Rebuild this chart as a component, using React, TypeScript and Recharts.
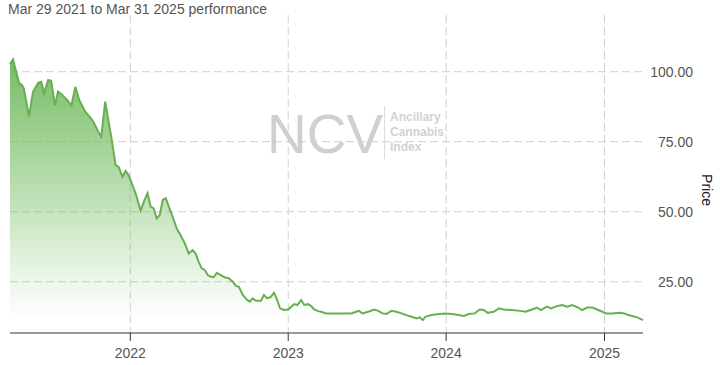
import { AreaChart, Area, XAxis, YAxis, CartesianGrid } from 'recharts';

const dates = [
  '2021-03-29', '2021-04-05', '2021-04-19', '2021-04-26', '2021-04-30', '2021-05-12', '2021-05-21', '2021-06-02',
  '2021-06-09', '2021-06-16', '2021-06-25', '2021-07-02', '2021-07-11', '2021-07-18', '2021-07-28', '2021-08-01',
  '2021-08-08', '2021-08-18', '2021-08-27', '2021-09-05', '2021-09-19', '2021-10-01', '2021-10-08', '2021-10-19',
  '2021-10-26', '2021-11-04', '2021-11-18', '2021-11-28', '2021-12-05', '2021-12-14', '2021-12-21', '2021-12-28',
  '2022-01-06', '2022-01-13', '2022-01-25', '2022-02-03', '2022-02-10', '2022-02-17', '2022-02-24', '2022-03-03',
  '2022-03-10', '2022-03-17', '2022-03-24', '2022-03-31', '2022-04-09', '2022-04-18', '2022-04-27', '2022-05-07',
  '2022-05-16', '2022-05-25', '2022-06-01', '2022-06-08', '2022-06-15', '2022-06-22', '2022-06-29', '2022-07-06',
  '2022-07-13', '2022-07-20', '2022-07-29', '2022-08-07', '2022-08-17', '2022-08-26', '2022-09-02', '2022-09-09',
  '2022-09-18', '2022-09-28', '2022-10-04', '2022-10-11', '2022-10-18', '2022-10-30', '2022-11-06', '2022-11-13',
  '2022-11-22', '2022-11-29', '2022-12-06', '2022-12-13', '2022-12-22', '2023-01-01', '2023-01-08', '2023-01-15',
  '2023-01-22', '2023-01-31', '2023-02-07', '2023-02-16', '2023-02-23', '2023-03-02', '2023-03-11', '2023-03-18',
  '2023-03-30', '2023-04-10', '2023-05-04', '2023-05-27', '2023-06-07', '2023-06-14', '2023-06-21', '2023-07-05',
  '2023-07-19', '2023-07-28', '2023-08-07', '2023-08-16', '2023-08-28', '2023-09-08', '2023-09-20', '2023-10-01',
  '2023-10-13', '2023-10-25', '2023-11-01', '2023-11-08', '2023-11-14', '2023-11-28', '2023-12-15', '2023-12-31',
  '2024-01-14', '2024-01-30', '2024-02-11', '2024-02-22', '2024-03-07', '2024-03-19', '2024-03-28', '2024-04-06',
  '2024-04-20', '2024-05-02', '2024-05-13', '2024-06-01', '2024-06-20', '2024-07-03', '2024-07-17', '2024-07-29',
  '2024-08-07', '2024-08-21', '2024-08-30', '2024-09-13', '2024-09-25', '2024-10-07', '2024-10-18', '2024-11-01',
  '2024-11-10', '2024-11-22', '2024-12-04', '2024-12-15', '2024-12-27', '2025-01-05', '2025-01-19', '2025-02-04',
  '2025-02-16', '2025-02-25', '2025-03-06', '2025-03-18', '2025-03-31',
];

const prices = [
  102.7, 104.4, 96, 95.2, 94, 84, 92.7, 96,
  96.4, 92.4, 97, 96.8, 88, 92.9, 91.7, 91,
  89.9, 88, 94.6, 89.9, 85.7, 83.5, 82, 78.6,
  76.8, 89.3, 76.8, 66.7, 66, 62.5, 64.6, 63.1,
  59.5, 56.7, 50.4, 54.2, 56.6, 51.8, 51.2, 47.6,
  48.8, 54.2, 54.8, 51.8, 48.2, 44.1, 41.7, 38.7,
  35.1, 36.3, 35.1, 32.1, 29.8, 29.2, 27.4, 26.8,
  26.6, 28.2, 27.4, 26.6, 26.2, 25, 23.5, 23.2,
  20.3, 18.5, 17.9, 19.1, 18.2, 18.2, 20.3, 19.1,
  19.6, 21.1, 18.7, 15.5, 14.9, 15.1, 16.1, 17,
  16.7, 18.5, 16.7, 17, 16.3, 15.1, 14.5, 14.3,
  13.7, 13.7, 13.7, 13.7, 14.3, 14.6, 13.7, 14.3,
  15.1, 14.6, 13.7, 13.5, 14.6, 14.3, 13.7, 13.1,
  12.5, 11.9, 12.3, 11.3, 12.5, 13.1, 13.5, 13.7,
  13.5, 13.1, 12.8, 13.5, 13.7, 15.1, 14.9, 13.9,
  14.3, 15.5, 15.1, 14.9, 14.6, 14.3, 15.1, 15.8,
  14.9, 16.1, 15.5, 16.3, 16.7, 16.1, 16.7, 15.8,
  14.9, 15.8, 15.8, 15.1, 14.3, 13.7, 13.7, 13.9,
  13.7, 13.1, 12.8, 12.3, 11.3,
];

const yearTicks = ['2022-01-01', '2023-01-01', '2024-01-01', '2025-01-01'];
const priceTicks = [25, 50, 75, 100];

const FONT = '"Liberation Sans", Arial, sans-serif';
const LINE = '#68ae52';

const data = dates.map((d, i) => ({ t: Date.parse(d), price: prices[i] }));
const yearTs = yearTicks.map((d) => Date.parse(d));

const PriceTick = (props: any) => {
  const { y, payload } = props;
  return (
    <text x={693} y={y} dy="0.35em" textAnchor="end" fontSize={14} fill="#555" fontFamily={FONT}>
      {Number(payload.value).toFixed(2)}
    </text>
  );
};

const App = () => {
  return (
    <div style={{ position: 'absolute', left: 0, top: 0, width: 720, height: 365, background: '#fff' }}>
      <AreaChart
        width={720}
        height={365}
        data={data}
        margin={{ top: 15, right: 0, left: 10, bottom: 0 }}
      >
        <defs>
          <linearGradient id="priceFill" x1="0" y1="0" x2="0" y2="1">
            <stop offset="0%" stopColor="#6db85a" stopOpacity={0.95} />
            <stop offset="50%" stopColor="#7cc06a" stopOpacity={0.5} />
            <stop offset="95%" stopColor="#8ccb7a" stopOpacity={0} />
          </linearGradient>
        </defs>

        {/* dashed grid only at the year and price ticks, no frame */}
        <CartesianGrid stroke="#cfcfcf" strokeDasharray="8 4" syncWithTicks />

        <XAxis
          dataKey="t"
          type="number"
          scale="time"
          domain={[Date.parse(dates[0]), Date.parse(dates[dates.length - 1])]}
          ticks={yearTs}
          tickFormatter={(v: number) => String(new Date(v).getUTCFullYear())}
          height={32}
          tickSize={8}
          tickMargin={7}
          axisLine={{ stroke: '#333' }}
          tickLine={{ stroke: '#333' }}
          tick={{ fontSize: 14, fill: '#555', fontFamily: FONT }}
        />

        <YAxis
          orientation="right"
          type="number"
          domain={[6.7, 120.25]}
          allowDataOverflow
          ticks={priceTicks}
          width={77}
          axisLine={false}
          tickLine={false}
          tick={<PriceTick />}
        />

        <Area
          type="linear"
          dataKey="price"
          stroke={LINE}
          strokeWidth={2}
          fill="url(#priceFill)"
          fillOpacity={1}
          dot={false}
          activeDot={false}
          isAnimationActive={false}
        />
      </AreaChart>

      {/* title, watermark and axis name */}
      <svg width={720} height={365} style={{ position: 'absolute', left: 0, top: 0, pointerEvents: 'none' }}>
        <text x={8} y={14} fontSize={14} fill="#555" fontFamily={FONT}>
          Mar 29 2021 to Mar 31 2025 performance
        </text>
        <text x={267} y={153} fontSize={55} fill="#cfcfcf" fontFamily={FONT}>
          NCV
        </text>
        <line x1={384.5} y1={106} x2={384.5} y2={159} stroke="#dcdcdc" strokeWidth={1} />
        <g fontSize={12} fontWeight="bold" fill="#d2d2d2" fontFamily={FONT}>
          <text x={390} y={121}>Ancillary</text>
          <text x={390} y={136}>Cannabis</text>
          <text x={390} y={151}>Index</text>
        </g>
        <text
          x={0}
          y={0}
          transform="translate(702, 190) rotate(90)"
          textAnchor="middle"
          fontSize={14}
          fill="#222"
          fontFamily={FONT}
        >
          Price
        </text>
      </svg>
    </div>
  );
};

export default App;
